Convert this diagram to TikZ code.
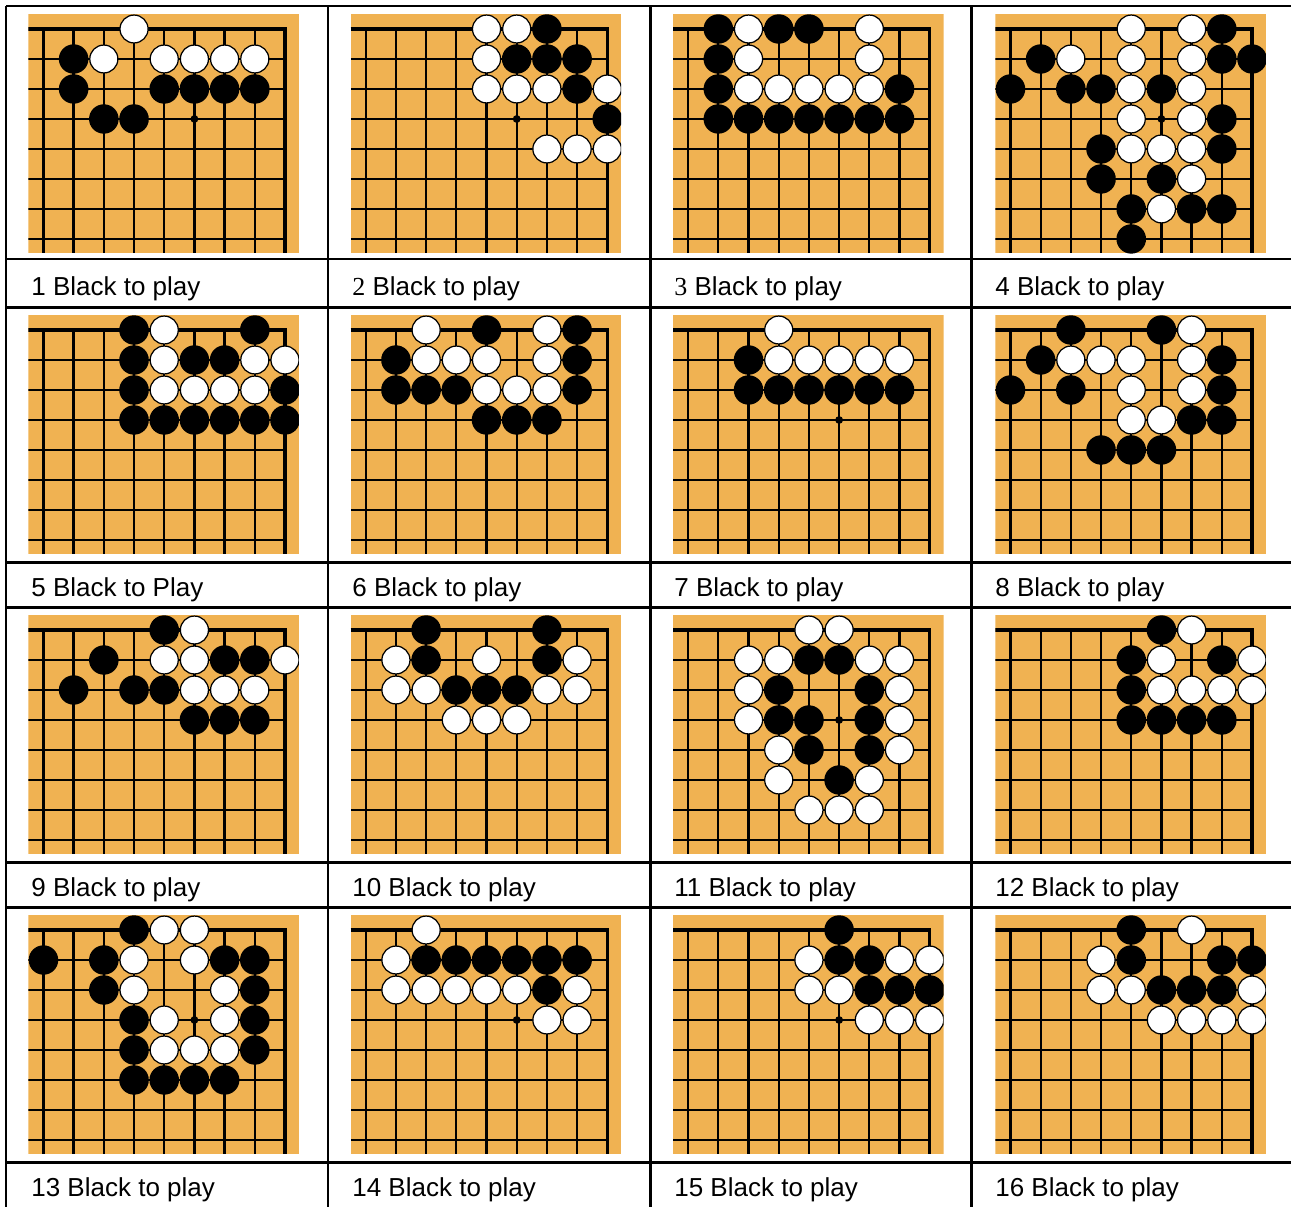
\documentclass[tikz,border=0pt]{standalone}
\usepackage{fontspec}
\setmainfont{Liberation Sans}
\newfontfamily\numserif{Liberation Serif}
\definecolor{boardwood}{RGB}{240,178,82}
\tikzset{
    board_wood/.style={fill=boardwood},
    grid_line/.style={draw=black, line width=1.3pt},
    edge_line/.style={draw=black, line width=1.9pt},
    hoshi_dot/.style={fill=black},
    stone_black/.style={fill=black},
    stone_white/.style={fill=white, draw=black, line width=0.7pt},
    table_rule/.style={draw=black, line width=1.7pt},
    caption_text/.style={anchor=base west, inner sep=0pt, font=\fontsize{14.8pt}{17pt}\selectfont}
}
% #1,#2 = corner point of the board, #3 = black stones, #4 = white stones (column/row from the corner)
\newcommand{\goboard}[4]{%
    \begin{scope}[shift={(#1,#2)}, x=-0.604cm, y=-0.6cm]
        \clip (-0.46,-0.5) rectangle (8.5,7.47);
        \fill[board_wood] (-0.46,-0.5) rectangle (8.5,7.47);
        \foreach \c in {1,...,8} \draw[grid_line] (\c,0) -- (\c,7.47);
        \foreach \r in {1,...,7} \draw[grid_line] (0,\r) -- (8.5,\r);
        \draw[edge_line] (8.5,0) -- (0,0) -- (0,7.47);
        \fill[hoshi_dot] (3,3) circle[radius=0.13];
        \foreach \c/\r in {#3} \fill[stone_black] (\c,\r) circle[radius=0.49];
        \foreach \c/\r in {#4} \filldraw[stone_white] (\c,\r) circle[radius=0.465];
    \end{scope}}

\begin{document}
\begin{tikzpicture}[x=0.02cm, y=-0.02cm]
    \useasboundingbox (0,0) rectangle (1291,1207);

    % row 1
    \goboard{285}{29}{7/1,7/2,4/2,3/2,2/2,1/2,6/3,5/3}{5/0,6/1,4/1,3/1,2/1,1/1}
    \goboard{607.3}{29}{2/0,3/1,2/1,1/1,1/2,0/3}{4/0,3/0,4/1,4/2,3/2,2/2,0/2,2/4,1/4,0/4}
    \goboard{929.7}{29}{7/0,5/0,4/0,7/1,7/2,1/2,7/3,6/3,5/3,4/3,3/3,2/3,1/3}{6/0,2/0,6/1,2/1,6/2,5/2,4/2,3/2,2/2}
    \goboard{1252}{29}{1/0,7/1,1/1,0/1,8/2,6/2,5/2,3/2,1/3,5/4,1/4,5/5,3/5,4/6,2/6,1/6,4/7}{4/0,2/0,6/1,4/1,2/1,4/2,2/2,4/3,2/3,4/4,3/4,2/4,2/5,3/6}

    % row 2
    \goboard{285}{330}{5/0,1/0,5/1,3/1,2/1,5/2,0/2,5/3,4/3,3/3,2/3,1/3,0/3}{4/0,4/1,1/1,0/1,4/2,3/2,2/2,1/2}
    \goboard{607.3}{330}{4/0,1/0,7/1,1/1,7/2,6/2,5/2,1/2,4/3,3/3,2/3}{6/0,2/0,6/1,5/1,4/1,2/1,4/2,3/2,2/2}
    \goboard{929.7}{330}{6/1,6/2,5/2,4/2,3/2,2/2,1/2}{5/0,5/1,4/1,3/1,2/1,1/1}
    \goboard{1252}{330}{6/0,3/0,7/1,1/1,8/2,6/2,1/2,2/3,1/3,5/4,4/4,3/4}{2/0,6/1,5/1,4/1,2/1,4/2,2/2,4/3,3/3}

    % row 3
    \goboard{285}{630}{4/0,6/1,2/1,1/1,7/2,5/2,4/2,3/3,2/3,1/3}{3/0,4/1,3/1,0/1,3/2,2/2,1/2}
    \goboard{607.3}{630}{6/0,2/0,6/1,2/1,5/2,4/2,3/2}{7/1,4/1,1/1,7/2,6/2,2/2,1/2,5/3,4/3,3/3}
    \goboard{929.7}{630}{4/1,3/1,5/2,2/2,5/3,4/3,2/3,4/4,2/4,3/5}{4/0,3/0,6/1,5/1,2/1,1/1,6/2,1/2,6/3,1/3,5/4,1/4,5/5,2/5,4/6,3/6,2/6}
    \goboard{1252}{630}{3/0,4/1,1/1,4/2,4/3,3/3,2/3,1/3}{2/0,3/1,0/1,3/2,2/2,1/2,0/2}

    % row 4
    \goboard{285}{930}{5/0,8/1,6/1,2/1,1/1,6/2,1/2,5/3,1/3,5/4,1/4,5/5,4/5,3/5,2/5}{4/0,3/0,5/1,3/1,5/2,2/2,4/3,2/3,4/4,3/4,2/4}
    \goboard{607.3}{930}{6/1,5/1,4/1,3/1,2/1,1/1,2/2}{6/0,7/1,7/2,6/2,5/2,4/2,3/2,1/2,2/3,1/3}
    \goboard{929.7}{930}{3/0,3/1,2/1,2/2,1/2,0/2}{4/1,1/1,0/1,4/2,3/2,2/3,1/3,0/3}
    \goboard{1252}{930}{4/0,4/1,1/1,0/1,3/2,2/2,1/2}{2/0,5/1,5/2,4/2,0/2,3/3,2/3,1/3,0/3}

    % table rules
    \foreach \y in {6,259,307.5,562,607.5,862,907.5,1162}
        \draw[table_rule] (6,\y) -- (1291,\y);
    \foreach \x in {6,328,650,971}
        \draw[table_rule] (\x,6) -- (\x,1207);

    % captions
    \node[caption_text] (cap1) at (31,295) {1 Black to play};
    \node[caption_text] (cap2) at (352,295) {{\numserif 2} Black to play};
    \node[caption_text] (cap3) at (674,295) {{\numserif 3} Black to play};
    \node[caption_text] (cap4) at (995,295) {4 Black to play};
    \node[caption_text] (cap5) at (31,596) {5 Black to Play};
    \node[caption_text] (cap6) at (352,596) {6 Black to play};
    \node[caption_text] (cap7) at (674,596) {7 Black to play};
    \node[caption_text] (cap8) at (995,596) {8 Black to play};
    \node[caption_text] (cap9) at (31,896) {9 Black to play};
    \node[caption_text] (cap10) at (352,896) {10 Black to play};
    \node[caption_text] (cap11) at (674,896) {11 Black to play};
    \node[caption_text] (cap12) at (995,896) {12 Black to play};
    \node[caption_text] (cap13) at (31,1196) {13 Black to play};
    \node[caption_text] (cap14) at (352,1196) {14 Black to play};
    \node[caption_text] (cap15) at (674,1196) {15 Black to play};
    \node[caption_text] (cap16) at (995,1196) {16 Black to play};

\end{tikzpicture}
\end{document}
